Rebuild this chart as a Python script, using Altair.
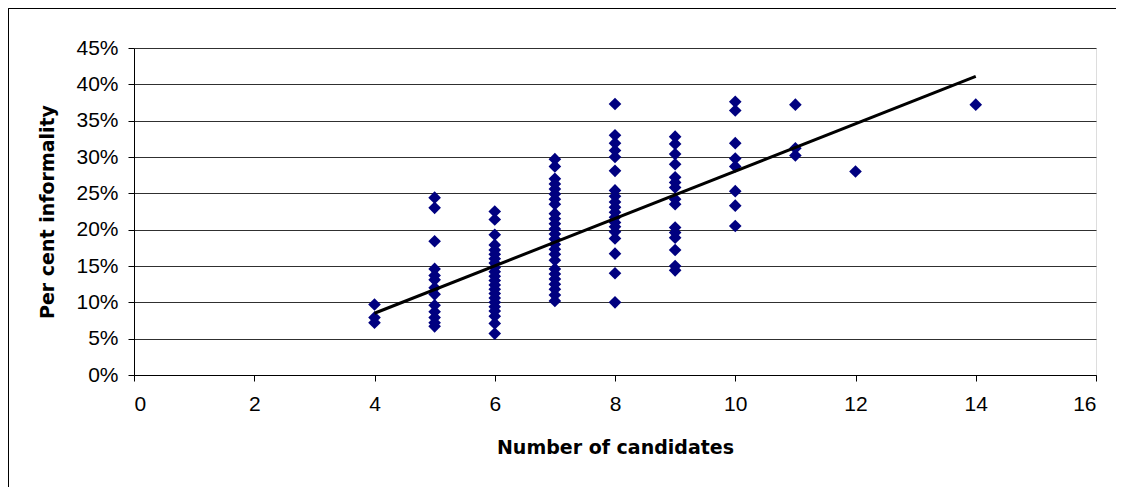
import altair as alt
import pandas as pd

# Per cent informality by number of candidates
inf_4 = [9.7, 7.9, 7.2]
inf_5 = [24.4, 23.0, 18.4, 14.6, 13.7, 13.1, 12.0, 11.1, 9.6, 8.7, 7.9, 7.2, 6.7]
inf_6 = [22.5, 21.4, 19.3, 17.9, 17.2, 16.6, 16.0, 15.4, 14.8, 14.2, 13.6, 13.0,
         12.4, 11.8, 11.2, 10.6, 10.0, 9.4, 8.8, 8.1, 7.1, 5.7]
inf_7 = [29.7, 28.7, 27.0, 26.3, 25.6, 24.9, 24.2, 23.5, 22.2, 21.5, 20.8, 20.1,
         19.4, 18.7, 18.0, 17.3, 16.6, 15.8, 14.6, 13.9, 13.2, 12.5, 11.8, 11.0, 10.2]
inf_8 = [37.3, 33.0, 31.9, 30.9, 30.0, 28.1, 25.4, 24.6, 23.8, 23.1, 22.4, 21.7,
         21.0, 20.4, 19.7, 18.8, 16.7, 14.0, 10.0]
inf_9 = [32.8, 31.8, 30.4, 29.0, 27.2, 26.5, 25.8, 24.2, 23.5, 20.3, 19.6, 18.9,
         17.2, 15.0, 14.4]
inf_10 = [37.6, 36.4, 31.9, 29.8, 28.7, 25.3, 23.3, 20.5]
inf_11 = [37.2, 31.2, 30.2]
inf_12 = [28.0]
inf_14 = [37.2]

# Linear trend line end points
trend_x = [4, 14]
trend_y = [8.5, 41.1]

# Axis ticks
x_ticks = [0, 2, 4, 6, 8, 10, 12, 14, 16]
y_ticks = [0, 5, 10, 15, 20, 25, 30, 35, 40, 45]

groups = {4: inf_4, 5: inf_5, 6: inf_6, 7: inf_7, 8: inf_8, 9: inf_9,
          10: inf_10, 11: inf_11, 12: inf_12, 14: inf_14}
rows = []
for k, vals in groups.items():
    for v in vals:
        rows.append({"candidates": k, "informality": v})
points_df = pd.DataFrame(rows)
trend_df = pd.DataFrame({"candidates": trend_x, "informality": trend_y})

LABEL_FONT = "Liberation Sans"
TITLE_FONT = "DejaVu Sans"

xscale = alt.Scale(domain=[0, 16], nice=False, zero=False)
yscale = alt.Scale(domain=[0, 45], nice=False)

xaxis = alt.Axis(
    title="Number of candidates", values=x_ticks, tickCount=20, format="d",
    grid=False, domainColor="black", tickColor="black", tickSize=6,
    labelFontSize=21, labelPadding=12, labelColor="black", labelOverlap=False,
    titleFontSize=19, titleFontWeight="bold", titleColor="black",
    titlePadding=24, labelFont=LABEL_FONT, titleFont=TITLE_FONT,
)
yaxis = alt.Axis(
    title="Per cent informality", values=y_ticks, tickCount=20, grid=True,
    gridColor="#303030", gridOpacity=1, domainColor="black", tickColor="black",
    tickSize=6, labelFontSize=21, labelPadding=10, labelColor="black",
    labelOverlap=False, labelExpr="datum.value + '%'", titleFontSize=19,
    titleFontWeight="bold", titleColor="black", titlePadding=18,
    labelFont=LABEL_FONT, titleFont=TITLE_FONT,
)

pts = alt.Chart(points_df).mark_point(
    shape="diamond", filled=True, color="#000080", size=160, opacity=1
).encode(
    x=alt.X("candidates:Q", scale=xscale, axis=xaxis),
    y=alt.Y("informality:Q", scale=yscale, axis=yaxis),
)

trend = alt.Chart(trend_df).mark_line(color="black", strokeWidth=3).encode(
    x=alt.X("candidates:Q", scale=xscale),
    y=alt.Y("informality:Q", scale=yscale),
)

frame_left = alt.Chart(trend_df).mark_rule(color="black", strokeWidth=1).encode(
    x=alt.value(-125.5), y=alt.value(-39.5), y2=alt.value(460)
)
frame_top = alt.Chart(trend_df).mark_rule(color="black", strokeWidth=1).encode(
    x=alt.value(-125.5), x2=alt.value(990), y=alt.value(-39.5)
)

chart = alt.layer(pts, trend, frame_left, frame_top).properties(
    width=962, height=327,
    autosize=alt.AutoSizeParams(type="none"),
    padding={"left": 126, "top": 40, "right": 20, "bottom": 112},
).configure_view(
    fill="#C0C0C0", stroke="#808080", strokeWidth=1
).configure(background="white")

chart.save("out.html", embed_options={"renderer": "svg", "actions": False})
